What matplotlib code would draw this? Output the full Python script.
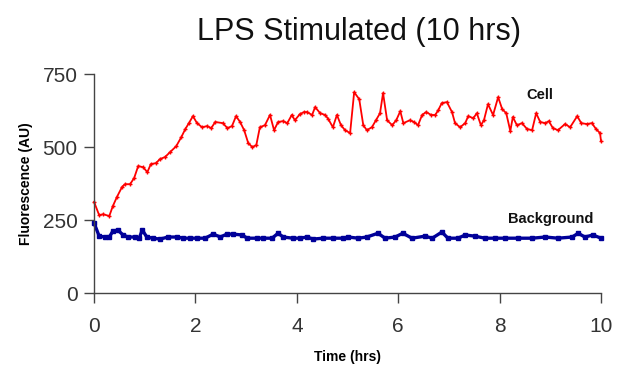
import matplotlib
matplotlib.use("Agg")
import matplotlib.pyplot as plt

plt.rcParams['font.family'] = ['Liberation Sans', 'DejaVu Sans']

cell_t = [0.0, 0.1, 0.18, 0.3, 0.37, 0.45, 0.55, 0.61, 0.71, 0.79, 0.87, 0.97, 1.05, 1.12, 1.22,
          1.30, 1.40, 1.50, 1.62, 1.72, 1.80, 1.87, 1.95, 2.03, 2.13, 2.23, 2.31, 2.39, 2.54, 2.63,
          2.72, 2.80, 2.88, 2.96, 3.04, 3.12, 3.20, 3.27, 3.37, 3.47, 3.55, 3.63, 3.73, 3.81, 3.90,
          3.96, 4.06, 4.14, 4.20, 4.30, 4.36, 4.46, 4.56, 4.62, 4.71, 4.79, 4.87, 4.95, 5.05, 5.13,
          5.23, 5.31, 5.38, 5.48, 5.56, 5.64, 5.70, 5.78, 5.88, 5.96, 6.04, 6.10, 6.23, 6.31, 6.39,
          6.47, 6.55, 6.65, 6.73, 6.79, 6.86, 6.96, 7.06, 7.12, 7.22, 7.32, 7.38, 7.48, 7.55, 7.63,
          7.69, 7.77, 7.87, 7.97, 8.05, 8.13, 8.21, 8.26, 8.34, 8.44, 8.54, 8.64, 8.72, 8.80, 8.90,
          8.97, 9.05, 9.15, 9.29, 9.39, 9.53, 9.61, 9.72, 9.82, 9.90, 9.98, 10.0]
cell_v = [312, 267, 270, 264, 298, 329, 363, 373, 373, 394, 435, 431, 414, 442, 445,
          459, 466, 483, 503, 534, 562, 582, 606, 582, 568, 572, 565, 586, 582, 565,
          572, 606, 586, 558, 514, 500, 507, 568, 575, 610, 558, 586, 589, 582, 610,
          592, 613, 620, 620, 610, 637, 616, 610, 596, 568, 610, 575, 558, 548, 688,
          664, 575, 558, 568, 592, 616, 685, 592, 575, 592, 623, 582, 592, 586, 575,
          610, 620, 610, 610, 627, 651, 654, 620, 582, 568, 582, 606, 599, 616, 575,
          592, 647, 610, 671, 630, 616, 555, 603, 575, 582, 562, 558, 616, 586, 582,
          589, 565, 558, 579, 568, 606, 582, 579, 582, 562, 548, 520]

bg_t = [0.0, 0.1, 0.22, 0.3, 0.37, 0.47, 0.57, 0.67, 0.81, 0.89, 0.95, 1.04, 1.16, 1.30, 1.46,
        1.64, 1.76, 1.89, 2.03, 2.19, 2.35, 2.49, 2.62, 2.74, 2.92, 3.02, 3.21, 3.33, 3.51, 3.63,
        3.73, 3.92, 4.06, 4.20, 4.32, 4.52, 4.71, 4.91, 5.01, 5.21, 5.38, 5.60, 5.74, 5.94, 6.09,
        6.27, 6.53, 6.67, 6.86, 6.98, 7.18, 7.32, 7.51, 7.71, 7.91, 8.11, 8.36, 8.64, 8.90, 9.15,
        9.43, 9.55, 9.68, 9.84, 10.0]
bg_v = [240, 195, 192, 192, 212, 216, 199, 192, 192, 188, 216, 192, 188, 185, 192,
        192, 188, 188, 188, 188, 202, 192, 202, 202, 199, 188, 188, 188, 188, 205,
        192, 188, 188, 192, 185, 188, 188, 188, 192, 188, 192, 205, 188, 192, 205,
        188, 195, 188, 209, 188, 188, 199, 195, 188, 188, 188, 188, 188, 192, 188,
        192, 205, 192, 199, 188]

x_ticks = [0, 2, 4, 6, 8, 10]
y_ticks = [0, 250, 500, 750]

fig = plt.figure(figsize=(6.19, 3.65), dpi=100)
ax = fig.add_axes([0.152, 0.197, 0.819, 0.600])

ax.plot(cell_t, cell_v, color='#ff0000', lw=1.3, marker='+', ms=3.5, mew=1.0, clip_on=False)
ax.plot(bg_t, bg_v, color='#000099', lw=2.4, marker='s', ms=2.6, clip_on=False)

ax.set_xlim(0, 10)
ax.set_ylim(0, 750)
ax.set_xticks(x_ticks)
ax.set_yticks(y_ticks)
ax.tick_params(axis='both', labelsize=15, colors='#444444', length=7, width=1, direction='out')
ax.tick_params(axis='x', pad=10)
ax.tick_params(axis='y', pad=5)
for lbl in ax.get_xticklabels() + ax.get_yticklabels():
    lbl.set_color('#333333')
for s in ['top', 'right']:
    ax.spines[s].set_visible(False)
for s in ['left', 'bottom']:
    ax.spines[s].set_color('#444444')
    ax.spines[s].set_linewidth(1.0)

ax.set_xlabel('Time (hrs)', fontsize=10, fontweight='bold', labelpad=10)
ax.set_ylabel('Fluorescence (AU)', fontsize=10, fontweight='bold', labelpad=7)
fig.text(0.580, 0.912, 'LPS Stimulated (10 hrs)', fontsize=22, ha='center', va='center', color='#111111')

ax.text(8.80, 680, 'Cell', fontsize=10.5, fontweight='bold', ha='center', va='center', color='#111111')
ax.text(9.0, 255, 'Background', fontsize=10.5, fontweight='bold', ha='center', va='center', color='#111111')

fig.savefig('out.png', dpi=100)
